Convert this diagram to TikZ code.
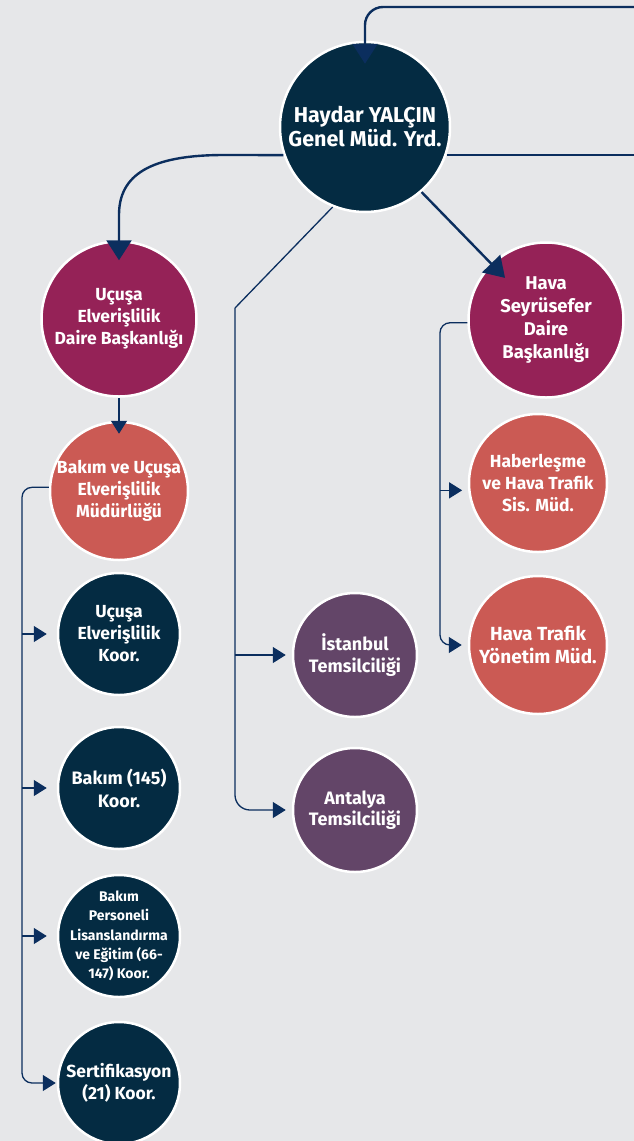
\documentclass[tikz,border=0pt]{standalone}
\usepackage{fontspec}
\setmainfont{Fira Sans}
\usetikzlibrary{arrows.meta,calc}
\definecolor{bg}{HTML}{E6E7E9}
\definecolor{navy}{HTML}{042B42}
\definecolor{plum}{HTML}{952257}
\definecolor{coral}{HTML}{CB5A54}
\definecolor{grape}{HTML}{634568}
\definecolor{wire}{HTML}{0B2E5E}
\begin{document}
\begin{tikzpicture}[x=1pt,y=-1pt,
  org/.style={circle,draw=white,line width=2.5pt,text=white,align=center,inner sep=-60pt,
    font=\bfseries\fontsize{17.5}{22}\selectfont},
  bigwire/.style={draw=wire,line width=2.4pt},
  thinwire/.style={draw=wire,line width=1.3pt},
  bigtip/.style={-{Triangle[width=25pt,length=20pt]}},
  smalltip/.style={-{Triangle[width=16pt,length=13pt]}}]
\useasboundingbox (0,0) rectangle (634,1141);
\fill[bg] (0,0) rectangle (634,1141);

% nodes
\node[org,fill=navy,minimum size=170pt,font=\bfseries\fontsize{21.5}{24}\selectfont] (h) at (365,127) {Haydar YALÇIN\\Genel Müd. Yrd.};
\node[org,fill=plum,minimum size=155pt] (u1) at (119,319) {Uçuşa\\Elverişlilik\\Daire Başkanlığı};
\node[org,fill=plum,minimum size=155pt,font=\bfseries\fontsize{18.5}{23.3}\selectfont] (hs) at (546,320) {Hava\\Seyrüsefer\\Daire\\Başkanlığı};
\node[org,fill=coral,minimum size=138pt] (u2) at (119,491) {Bakım ve Uçuşa\\Elverişlilik\\Müdürlüğü};
\node[org,fill=navy,minimum size=122pt] (k1) at (119,634) {Uçuşa\\Elverişlilik\\Koor.};
\node[org,fill=navy,minimum size=122pt,font=\bfseries\fontsize{18}{23}\selectfont] (k2) at (119,788) {Bakım (145)\\Koor.};
\node[org,fill=navy,minimum size=122pt,font=\bfseries\fontsize{14}{19.3}\selectfont] (k3) at (119,936) {Bakım\\Personeli\\Lisanslandırma\\ve Eğitim (66-\\147) Koor.};
\node[org,fill=navy,minimum size=122pt] (k4) at (119,1083) {Sertifikasyon\\(21) Koor.};
\node[org,fill=grape,minimum size=124pt,font=\bfseries\fontsize{18}{21.5}\selectfont] (ist) at (355,655) {İstanbul\\Temsilciliği};
\node[org,fill=grape,minimum size=124pt,font=\bfseries\fontsize{18}{21.5}\selectfont] (ant) at (355,810) {Antalya\\Temsilciliği};
\node[org,fill=coral,minimum size=138pt] (hb) at (538,483) {Haberleşme\\ve Hava Trafik\\Sis. Müd.};
\node[org,fill=coral,minimum size=138pt,font=\bfseries\fontsize{19}{22.5}\selectfont] (hy) at (538,645) {Hava Trafik\\Yönetim Müd.};

% helper coordinates
\coordinate (topR) at (634,7);
\coordinate (rgtE) at (634,0);
\coordinate (lk) at (224,155);
\coordinate (mk) at (235,308);
\coordinate (lt) at (22,0);
\coordinate (rt) at (440,0);

% top-level connectors
\draw[bigwire,bigtip,rounded corners=18pt,shorten >=-23pt] (topR) -| (h.north);
\draw[bigwire] (h.-19) -- (h.-19 -| rgtE);
\draw[bigwire,bigtip,shorten >=-20pt] (h.199) -- (lk) .. controls (150,155) and (u1.north |- 0,175) .. (u1.north |- 0,215) -- (u1.north);
\draw[bigwire,bigtip,shorten >=-20pt] (h.-49) -- (hs);

% middle column
\draw[thinwire] (h.248) -- (mk);
\draw[thinwire,smalltip,rounded corners=15pt,shorten >=6pt] (mk) |- (ant.west);
\draw[thinwire,smalltip,shorten >=6pt] (mk |- ist.west) -- (ist.west);

% left column
\draw[thinwire,smalltip,shorten >=-13pt] (u1.south) -- (u2.north);
\draw[thinwire,smalltip,rounded corners=10pt,shorten >=1pt] (u2.177) -- (u2.177 -| lt) -- (lt |- k4.west) -- (k4.west);
\draw[thinwire,smalltip,shorten >=10pt] (lt |- k1.west) -- (k1.west);
\draw[thinwire,smalltip,shorten >=10pt] (lt |- k2.west) -- (k2.west);
\draw[thinwire,smalltip,shorten >=10pt] (lt |- k3.west) -- (k3.west);

% right column
\draw[thinwire,smalltip,rounded corners=10pt,shorten >=6pt] (hs.182) -- (hs.182 -| rt) -- (rt |- hy.west) -- (hy.west);
\draw[thinwire,smalltip,shorten >=6pt] (rt |- hb.186) -- (hb.186);
\end{tikzpicture}
\end{document}
